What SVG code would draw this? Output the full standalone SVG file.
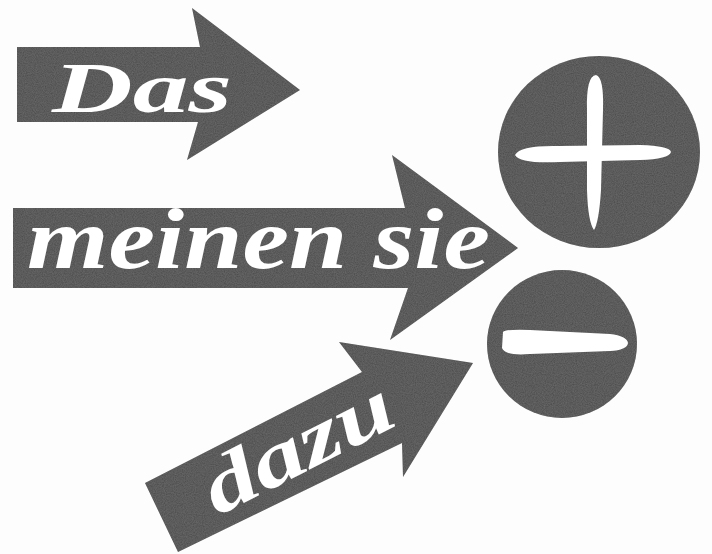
<svg xmlns="http://www.w3.org/2000/svg" width="712" height="554" viewBox="0 0 712 554">
<defs>
<filter id="grain" x="-5%" y="-5%" width="110%" height="110%">
<feTurbulence type="fractalNoise" baseFrequency="0.9" numOctaves="2" seed="3" result="n"/>
<feColorMatrix in="n" type="matrix" values="0 0 0 0 0.3  0 0 0 0 0.3  0 0 0 0 0.3  0 0 0 0.35 0" result="g"/>
<feComposite in="g" in2="SourceGraphic" operator="in" result="gi"/>
<feMerge><feMergeNode in="SourceGraphic"/><feMergeNode in="gi"/></feMerge>
</filter>
</defs>
<style>
.ink{fill:#484848}
.lbl{fill:#ffffff;font-family:"Liberation Serif","DejaVu Serif",serif;font-style:italic;font-weight:bold}
.mark{fill:#ffffff}
</style>
<rect width="712" height="554" fill="#fdfdfd"/>
<g id="arrow-das">
<polygon class="ink" filter="url(#grain)" points="17,47 200,47 192,8 300,90 187,160 198,122 17,122"/>
<text class="lbl" x="52" y="112" font-size="72" textLength="180" lengthAdjust="spacingAndGlyphs">Das</text>
</g>
<g id="arrow-meinen-sie">
<polygon class="ink" filter="url(#grain)" points="13,208 405,208 392,155 518,248 390,340 408,288 13,288"/>
<text class="lbl" x="27" y="268" font-size="86" textLength="463" lengthAdjust="spacingAndGlyphs">meinen sie</text>
</g>
<g id="arrow-dazu">
<polygon class="ink" filter="url(#grain)" points="145,483 362,372 339,342 473,363 403,477 402,443 178,552"/>
<text class="lbl" transform="translate(300,452) rotate(-27)" x="0" y="20" font-size="78" text-anchor="middle" textLength="205" lengthAdjust="spacingAndGlyphs">dazu</text>
</g>
<g id="plus">
<ellipse class="ink" filter="url(#grain)" cx="599" cy="152" rx="101" ry="96"/>
<path class="mark" d="M596,75 Q604,77 603,110 L601,190 Q599,222 594,230 Q588,222 587,190 L587,110 Q586,76 596,75 Z"/>
<path class="mark" d="M515,155 Q520,145 560,146 L640,145 Q670,146 671,152 Q669,159 640,160 L560,162 Q520,164 515,155 Z"/>
</g>
<g id="minus">
<ellipse class="ink" filter="url(#grain)" cx="562" cy="344" rx="75" ry="74"/>
<path class="mark" d="M503,332 Q506,329 530,330 L610,334 Q627,336 628,343 Q627,350 610,351 L530,354 Q505,356 502,348 Z"/>
</g>
</svg>
